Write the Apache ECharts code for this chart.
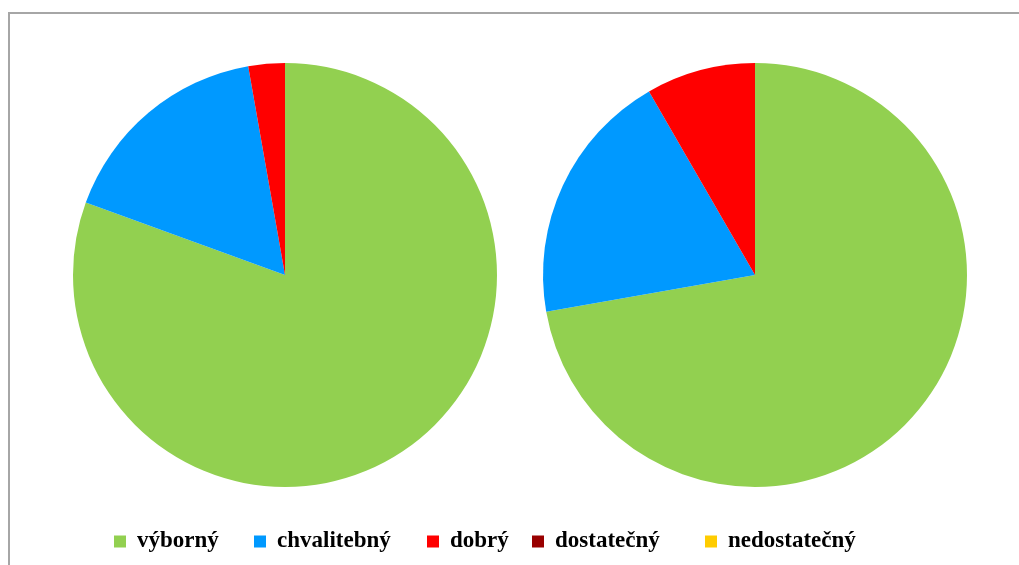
<!DOCTYPE html>
<html>
<head>
<meta charset="utf-8">
<script src="https://cdn.jsdelivr.net/npm/echarts@6/dist/echarts.min.js"></script>
<style>
  html, body { margin: 0; padding: 0; background: #ffffff; }
  #chart { width: 1019px; height: 565px; }
</style>
</head>
<body>
<div id="chart"></div>
<script>
// Grade categories and counts for the two groups
const categories = ['výborný', 'chvalitebný', 'dobrý', 'dostatečný', 'nedostatečný'];
const groupA = [29, 6, 1, 0, 0];
const groupB = [26, 7, 3, 0, 0];
const colors = ['#92d050', '#0099ff', '#ff0000', '#990000', '#ffcc00'];

// Left edge of each legend entry
const legendLeft = [114, 254, 427, 532, 705];

const chart = echarts.init(document.getElementById('chart'), null, { renderer: 'canvas' });

function pieSeries(values, center) {
  return {
    type: 'pie',
    center: center,
    radius: 212,
    startAngle: 90,
    clockwise: true,
    avoidLabelOverlap: false,
    label: { show: false },
    labelLine: { show: false },
    emphasis: { disabled: true },
    animation: false,
    data: categories.map((name, i) => ({ name: name, value: values[i] }))
  };
}

const legends = categories.map((name, i) => ({
  data: [name],
  left: legendLeft[i],
  top: 530,
  orient: 'horizontal',
  icon: 'rect',
  itemWidth: 12,
  itemHeight: 12,
  itemGap: 0,
  padding: 0,
  selectedMode: false,
  textStyle: {
    fontFamily: '"Liberation Serif", "DejaVu Serif", serif',
    fontWeight: 'bold',
    fontSize: 23,
    color: '#000000',
    padding: [0, 0, 0, 6]
  }
}));

chart.setOption({
  backgroundColor: '#ffffff',
  color: colors,
  animation: false,
  legend: legends,
  graphic: [{
    type: 'rect',
    shape: { x: 9, y: 13, width: 1030, height: 600 },
    style: { fill: 'none', stroke: '#a6a6a6', lineWidth: 2 },
    silent: true
  }],
  series: [
    pieSeries(groupA, [285, 275]),
    pieSeries(groupB, [755, 275])
  ]
});
</script>
</body>
</html>
